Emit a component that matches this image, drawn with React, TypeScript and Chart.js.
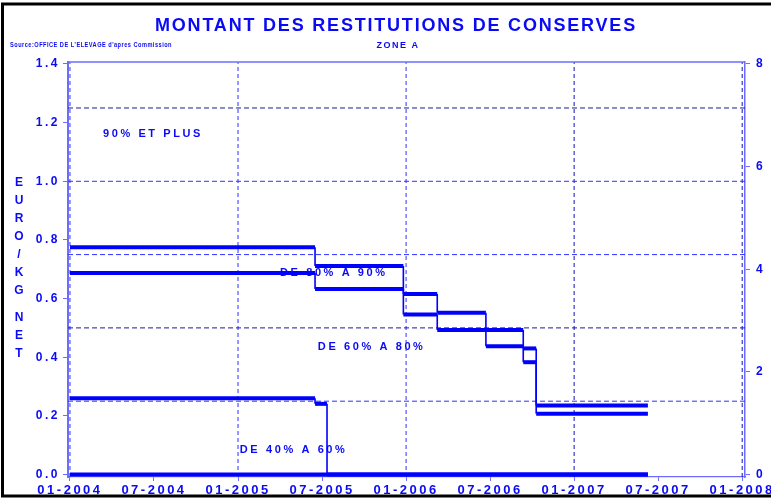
import { useEffect, useRef } from "react";
import { Chart, registerables } from "chart.js";

Chart.register(...registerables);

// ---- data ----
const stepDates = ["2004-01-01", "2005-06-16", "2005-12-26", "2006-03-08", "2006-06-22", "2006-09-12", "2006-10-10", "2007-06-09"];
const upperGrade = [0.775, 0.711, 0.616, 0.552, 0.437, 0.43, 0.235];
const lowerGrade = [0.687, 0.633, 0.546, 0.493, 0.493, 0.383, 0.207];
const thirdDates = ["2004-01-01", "2005-06-16", "2005-07-12", "2007-06-09"];
const thirdGrade = [0.26, 0.241, 0];
const zeroDates = ["2004-01-01", "2007-06-09"];
const zeroGrade = [0];
const bandLevels = [0.25, 0.5, 0.75, 1.0, 1.25];
const yearMarks = ["2004-01-01", "2005-01-01", "2006-01-01", "2007-01-01", "2008-01-01"];
const xTickLabels = ["01-2004", "07-2004", "01-2005", "07-2005", "01-2006", "07-2006", "01-2007", "07-2007", "01-2008"];
const yTickLabels = ["0.0", "0.2", "0.4", "0.6", "0.8", "1.0", "1.2", "1.4"];
const yRightTickLabels = ["0", "2", "4", "6", "8"];
const bandNames = ["90% ET PLUS", "DE 80% A 90%", "DE 60% A 80%", "DE 40% A 60%"];
const bandNameDates = ["2004-03-12", "2005-04-01", "2005-06-22", "2005-01-05"];
const bandNameValues = [1.161, 0.687, 0.435, 0.082];

const TITLE = "MONTANT DES RESTITUTIONS DE CONSERVES";
const SUBTITLE = "ZONE A";
const SOURCE = "Source:OFFICE DE L'ELEVAGE d'apres Commission";
const Y_TITLE = "EURO/KG NET";

// ---- style ----
const FONT = "'Liberation Sans', Arial, sans-serif";
const BLUE = "#0000ff";
const TEXT_BLUE = "#0a0af5";
const AXIS_BLUE = "#6c6cff";
const GRID_BLUE = "#3030ff";
const GRID_DARK = "#1a1a9a";
const bandLineColors = [GRID_BLUE, GRID_DARK, GRID_BLUE, GRID_BLUE, GRID_DARK];
const yearLineColors = [GRID_BLUE, GRID_BLUE, GRID_BLUE, "#1010b8", "#1010b8"];

const toMonths = (s: string) => {
  const [y, m, d] = s.split("-").map(Number);
  const dim = new Date(Date.UTC(y, m, 0)).getUTCDate();
  return (y - 2004) * 12 + (m - 1) + (d - 1) / dim;
};

const xMin = -0.14;
const xMax = 48.2;
const yMin = -0.0085;
const yMax = 1.4068;
const rMin = (yMin * 8) / 1.4;
const rMax = (yMax * 8) / 1.4;

const stepPoints = (dates: string[], vals: number[]) => {
  const xs = dates.map(toMonths);
  const pts: { x: number; y: number }[] = [];
  vals.forEach((v, i) => {
    pts.push({ x: xs[i], y: v });
    pts.push({ x: xs[i + 1], y: v });
  });
  return pts;
};

const stepDataset = (label: string, dates: string[], vals: number[]) => ({
  label,
  data: stepPoints(dates, vals),
  borderColor: BLUE,
  backgroundColor: BLUE,
  borderWidth: 4,
  pointRadius: 0,
  fill: false,
  tension: 0,
  order: 1,
  borderCapStyle: "butt",
  borderJoinStyle: "miter",
  segment: {
    borderWidth: (c: any) => (c.p0.parsed.y === c.p1.parsed.y ? 4 : 1.6),
  },
});

const refDatasets = [
  ...bandLevels.map((lvl, i) => ({
    label: "ref" + lvl,
    data: [
      { x: xMin, y: lvl },
      { x: xMax, y: lvl },
    ],
    borderColor: bandLineColors[i],
    borderWidth: 1,
    borderDash: [5, 3],
    pointRadius: 0,
    fill: false,
    order: 3,
  })),
  ...yearMarks.map((d, i) => ({
    label: "year" + d,
    data: [
      { x: toMonths(d), y: yMin },
      { x: toMonths(d), y: yMax },
    ],
    borderColor: yearLineColors[i],
    borderWidth: 1,
    borderDash: [4, 3],
    pointRadius: 0,
    fill: false,
    order: 3,
  })),
];

const tickFont = { family: FONT, size: 12, weight: "bold" as const };
const xTickFont = { family: FONT, size: 13, weight: "bold" as const };

const decorPlugin = {
  id: "decor",
  beforeDraw(chart: any) {
    chart.ctx.letterSpacing = "2.5px";
  },
  beforeDatasetsDraw(chart: any) {
    const { ctx, scales } = chart;
    ctx.save();
    ctx.font = `bold 11px ${FONT}`;
    ctx.letterSpacing = "2.6px";
    ctx.fillStyle = TEXT_BLUE;
    ctx.textAlign = "left";
    ctx.textBaseline = "middle";
    bandNames.forEach((n, i) => {
      ctx.fillText(n, scales.x.getPixelForValue(toMonths(bandNameDates[i])), scales.y.getPixelForValue(bandNameValues[i]));
    });
    ctx.restore();
  },
  afterDraw(chart: any) {
    const { ctx, chartArea } = chart;
    ctx.save();
    // top border of plot box
    ctx.strokeStyle = AXIS_BLUE;
    ctx.lineWidth = 1.5;
    ctx.beginPath();
    ctx.moveTo(chartArea.left, chartArea.top);
    ctx.lineTo(chartArea.right, chartArea.top);
    ctx.stroke();

    ctx.fillStyle = TEXT_BLUE;
    ctx.textBaseline = "middle";
    ctx.textAlign = "center";
    ctx.font = `bold 18px ${FONT}`;
    ctx.letterSpacing = "1.8px";
    ctx.fillText(TITLE, 396, 26);

    ctx.font = `bold 9px ${FONT}`;
    ctx.letterSpacing = "1.5px";
    ctx.fillText(SUBTITLE, 398, 46);

    // source line, condensed to its width in the reference
    ctx.textAlign = "left";
    ctx.font = `bold 7px ${FONT}`;
    ctx.letterSpacing = "0.6px";
    const w = ctx.measureText(SOURCE).width;
    ctx.save();
    ctx.translate(10, 45);
    ctx.scale(162 / w, 1);
    ctx.fillText(SOURCE, 0, 0);
    ctx.restore();

    ctx.textAlign = "center";
    ctx.font = `bold 12px ${FONT}`;
    ctx.letterSpacing = "0px";
    let y = 183;
    for (const ch of Y_TITLE) {
      if (ch === " ") {
        y += 9;
        continue;
      }
      ctx.fillText(ch, 19, y);
      y += 18;
    }

    // outer black frame
    ctx.strokeStyle = "#000";
    ctx.lineWidth = 3;
    ctx.strokeRect(2.5, 4, 790, 492);
    ctx.restore();
  },
};

export default function App() {
  const ref = useRef<HTMLCanvasElement>(null);
  useEffect(() => {
    const chart = new Chart(ref.current!, {
      type: "line",
      data: {
        datasets: [
          ...refDatasets,
          stepDataset("upper", stepDates, upperGrade),
          stepDataset("lower", stepDates, lowerGrade),
          stepDataset("third", thirdDates, thirdGrade),
          stepDataset("zero", zeroDates, zeroGrade),
        ] as any,
      },
      options: {
        responsive: false,
        animation: false,
        events: [],
        layout: { padding: { top: 62, left: 0, right: 0, bottom: 0 } },
        plugins: { legend: { display: false }, tooltip: { enabled: false }, title: { display: false } },
        scales: {
          x: {
            type: "linear",
            min: xMin,
            max: xMax,
            afterBuildTicks: (s: any) => {
              s.ticks = xTickLabels.map((_, i) => ({ value: i * 6 }));
            },
            afterFit: (s: any) => {
              s.height = 22;
            },
            ticks: {
              autoSkip: false,
              maxRotation: 0,
              minRotation: 0,
              padding: 2,
              color: TEXT_BLUE,
              font: xTickFont,
              callback: (_v: any, i: number) => xTickLabels[i],
            },
            grid: { drawOnChartArea: false, color: AXIS_BLUE, tickLength: 4, lineWidth: 1 },
            border: { color: AXIS_BLUE, width: 1.2 },
          },
          y: {
            position: "left",
            min: yMin,
            max: yMax,
            afterBuildTicks: (s: any) => {
              s.ticks = yTickLabels.map((l) => ({ value: parseFloat(l) }));
            },
            afterFit: (s: any) => {
              s.width = 68;
            },
            ticks: {
              padding: 3,
              color: TEXT_BLUE,
              font: tickFont,
              callback: (_v: any, i: number) => yTickLabels[i],
            },
            grid: { drawOnChartArea: false, color: AXIS_BLUE, tickLength: 5, lineWidth: 1 },
            border: { color: AXIS_BLUE, width: 2 },
          },
          yR: {
            position: "right",
            min: rMin,
            max: rMax,
            afterBuildTicks: (s: any) => {
              s.ticks = yRightTickLabels.map((l) => ({ value: parseFloat(l) }));
            },
            afterFit: (s: any) => {
              s.width = 26;
            },
            ticks: {
              padding: 6,
              color: TEXT_BLUE,
              font: tickFont,
              callback: (_v: any, i: number) => yRightTickLabels[i],
            },
            grid: { drawOnChartArea: false, color: AXIS_BLUE, tickLength: 5, lineWidth: 1 },
            border: { color: AXIS_BLUE, width: 1.5 },
          },
        },
      } as any,
      plugins: [decorPlugin],
    });
    return () => chart.destroy();
  }, []);
  return (
    <div style={{ position: "absolute", left: 0, top: 0, width: 771, height: 499, background: "#fff" }}>
      <canvas ref={ref} width={771} height={499} style={{ display: "block", width: 771, height: 499 }} />
    </div>
  );
}
